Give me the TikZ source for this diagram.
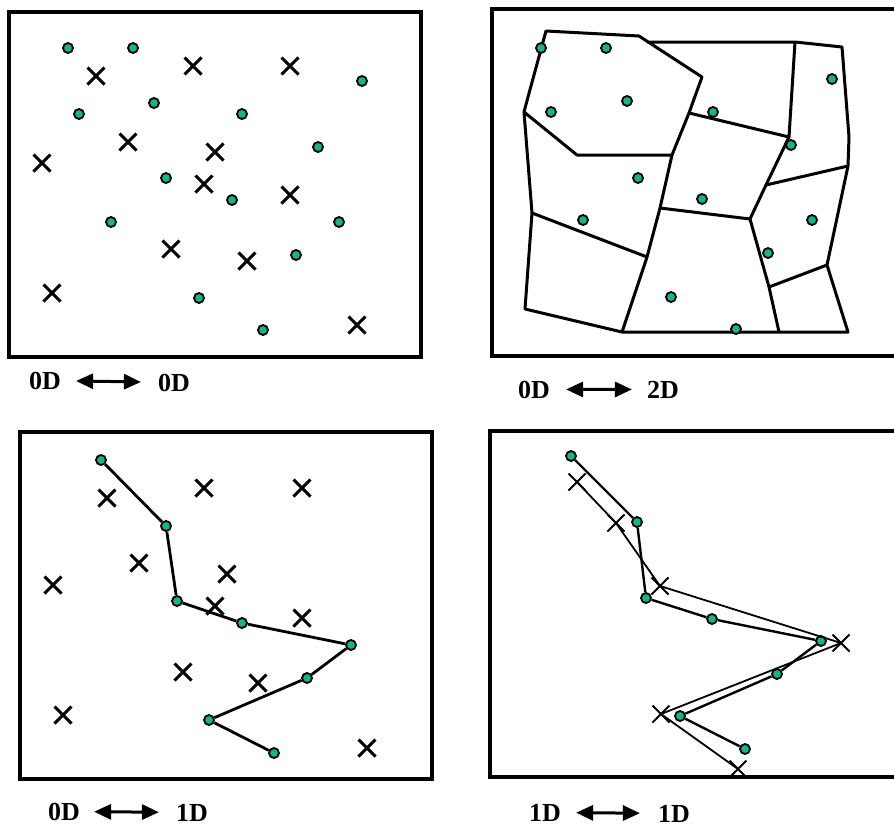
\documentclass[tikz,border=0pt]{standalone}
\usepackage{fontspec}
\setmainfont{Liberation Serif}
\usetikzlibrary{shapes.misc,arrows.meta}
\definecolor{sitegreen}{RGB}{20,180,140}

\tikzset{
  frame/.style={line width=4.8pt},
  site/.style={circle,draw=black,fill=sitegreen,line width=1.8pt,
    inner sep=0pt,minimum size=10pt},
  xmark/.style={cross out,draw=black,line width=3pt,inner sep=0pt,
    minimum size=14pt},
  thinx/.style={xmark,line width=2pt,minimum size=15pt},
  cell/.style={line width=3pt,line join=round},
  chain/.style={line width=2.8pt,line join=round},
  dimlabel/.style={font=\fontsize{26}{26}\selectfont\bfseries,anchor=base,
    inner sep=0pt},
  both/.style={{Triangle[length=17pt,width=15pt]}-{Triangle[length=17pt,width=15pt]},
    line width=3pt},
}

\begin{document}
\begin{tikzpicture}[x=1pt,y=-1pt]
  \clip (0,0) rectangle (894,830);

  % 0D <-> 0D: two point sets
  \draw[frame] (9,12) rectangle (421,357);
  \foreach \x/\y [count=\i] in {68/48,133/48,362/81,154/103,79/114,242/114,
      318/147,166/178,232/200,111/222,339/222,296/255,199/298,263/330}
    \node[site] (p\i) at (\x,\y) {};
  \foreach \x/\y [count=\i] in {96/76,193/66,290/66,128/142,42/163,215/152,
      204/184,290/195,171/249,247/261,52/293,357/325}
    \node[xmark] (q\i) at (\x,\y) {};
  \node[dimlabel] (la) at (45,389) {0D};
  \node[dimlabel] (lb) at (174,391) {0D};
  \draw[both,shorten <=15pt,shorten >=17pt] (la) -- (lb);

  % 0D <-> 2D: points against cells
  \draw[frame] (492,9) rectangle (905,356);
  \foreach \x/\y [count=\i] in {546/31,639/36,702/77,647/42,795/42,842/47,
      849/137,848/166,827/265,848/332,779/332,622/332,525/309,532/213,
      524/112,528/97,577/155,672/155,689/113,789/137,766/185,750/219,
      660/208,647/257,769/287}
    \coordinate (v\i) at (\x,\y);
  \draw[cell] (v4) -- (v5) -- (v6) -- (v7) -- (v8) -- (v9) -- (v10) -- (v11)
    -- (v12) -- (v13) -- (v14) -- (v15) -- (v16) -- (v1) -- (v2) -- (v3)
    -- (v19) -- (v18) -- (v23) -- (v24) -- (v12);
  \draw[cell] (v15) -- (v17) -- (v18);
  \draw[cell] (v14) -- (v24);
  \draw[cell] (v19) -- (v20) -- (v5);
  \draw[cell] (v20) -- (v21) -- (v22) -- (v25) -- (v11);
  \draw[cell] (v21) -- (v8);
  \draw[cell] (v23) -- (v22);
  \draw[cell] (v25) -- (v9);
  \foreach \x/\y [count=\i] in {541/48,606/48,832/79,627/101,551/112,713/112,
      791/145,638/178,702/199,583/220,812/220,768/253,671/297,736/329}
    \node[site] (r\i) at (\x,\y) {};
  \node[dimlabel] (lc) at (534,398) {0D};
  \node[dimlabel] (ld) at (663,398) {2D};
  \draw[both,shorten <=16pt,shorten >=15pt] (lc) -- (ld);

  % 0D <-> 1D: points against a line
  \draw[frame] (20,432) rectangle (432,779);
  \foreach \x/\y [count=\i] in {101/460,166/526,177/601,242/623,351/645,
      307/678,209/720,274/753}
    \node[site] (s\i) at (\x,\y) {};
  \draw[chain] (s1) -- (s2) -- (s3) -- (s4) -- (s5) -- (s6) -- (s7) -- (s8);
  \foreach \x/\y [count=\i] in {107/498,204/488,302/488,139/563,53/585,
      227/574,215/606,302/618,183/672,258/683,63/715,367/748}
    \node[xmark] (t\i) at (\x,\y) {};
  \node[dimlabel] (le) at (64,820) {0D};
  \node[dimlabel] (lf) at (192,821) {1D};
  \draw[both,shorten <=14pt,shorten >=17pt] (le) -- (lf);

  % 1D <-> 1D: two lines
  \draw[frame] (490,431) rectangle (905,777);
  \foreach \x/\y [count=\i] in {571/456,637/522,646/598,712/619,821/641,
      777/674,680/716,745/749}
    \node[site] (u\i) at (\x,\y) {};
  \draw[chain,line width=2.4pt] (u1) -- (u2) -- (u3) -- (u4) -- (u5) -- (u6)
    -- (u7) -- (u8);
  \foreach \x/\y [count=\i] in {577/482,616/523,660/586,841/643,661/714,
      738/769}
    \node[thinx] (w\i) at (\x,\y) {};
  \draw[line width=1.8pt,line join=round] (w1.center) -- (w2.center)
    -- (w3.center) -- (w4.center) -- (w5.center) -- (w6.center);
  \node[dimlabel] (lg) at (545,821) {1D};
  \node[dimlabel] (lh) at (674,822) {1D};
  \draw[both,shorten <=15pt,shorten >=18pt] (lg) -- (lh);
\end{tikzpicture}
\end{document}
